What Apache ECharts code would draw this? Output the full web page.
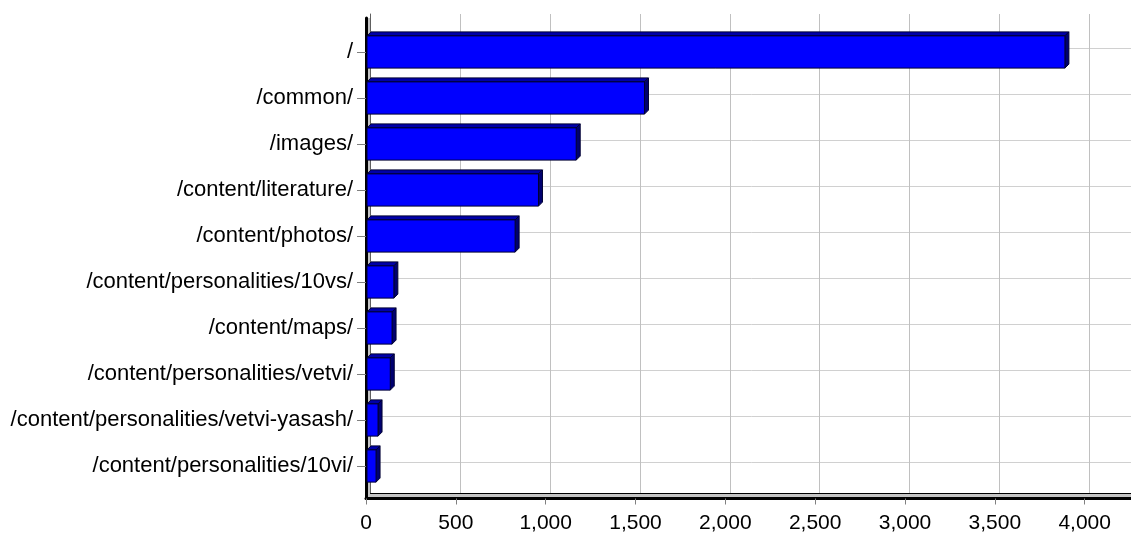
<!DOCTYPE html>
<html>
<head>
<meta charset="utf-8">
<script src="https://cdn.jsdelivr.net/npm/echarts@6/dist/echarts.min.js"></script>
<style>html,body{margin:0;padding:0;background:#fff}#c{width:1131px;height:533px}</style>
</head>
<body>
<div id="c"></div>
<script>
const categories = ["/", "/common/", "/images/", "/content/literature/", "/content/photos/",
  "/content/personalities/10vs/", "/content/maps/", "/content/personalities/vetvi/",
  "/content/personalities/vetvi-yasash/", "/content/personalities/10vi/"];
const hits = [3890, 1550, 1170, 960, 830, 155, 145, 135, 67, 56];
const xTicks = { min: 0, max: 4500, interval: 500 };

const FONT = '"Liberation Sans", Arial, sans-serif';
const D = 4;
const FRONT = '#0000FF', TOP = '#0000A8', SIDE = '#000070', EDGE = '#000033';

const seriesData = hits.map((v, i) => [v, i]);

function renderItem(params, api) {
  const v = api.value(0), c = api.value(1);
  const p0 = api.coord([0, c]);
  const p1 = api.coord([v, c]);
  const bh = api.size([0, 1])[1] * 0.7;
  const x0 = p0[0] + 1, x1 = p1[0], y0 = p0[1] - bh / 2, y1 = p0[1] + bh / 2;
  return {
    type: 'group',
    children: [
      { type: 'polygon', shape: { points: [[x0, y0], [x0 + D, y0 - D], [x1 + D, y0 - D], [x1, y0]] },
        style: { fill: TOP, stroke: EDGE, lineWidth: 1 } },
      { type: 'polygon', shape: { points: [[x1, y0], [x1 + D, y0 - D], [x1 + D, y1 - D], [x1, y1]] },
        style: { fill: SIDE, stroke: EDGE, lineWidth: 1 } },
      { type: 'rect', shape: { x: x0, y: y0, width: x1 - x0, height: y1 - y0 },
        style: { fill: FRONT, stroke: EDGE, lineWidth: 1 } }
    ]
  };
}

const chart = echarts.init(document.getElementById('c'), null, { renderer: 'canvas' });
const hidden = { show: false };
chart.setOption({
  animation: false,
  backgroundColor: '#fff',
  grid: [
    // 0: front frame (floor + left wall)
    { left: 366, right: -50, top: 18, bottom: 34.5, show: true, backgroundColor: '#c4c4c4', borderWidth: 0, z: 0,
      containLabel: false, outerBoundsMode: 'none' },
    // 1: back wall
    { left: 370.5, right: -48, top: 14, bottom: 40, show: true, backgroundColor: '#ffffff', borderWidth: 0, z: 1,
      containLabel: false, outerBoundsMode: 'none' },
    // 2: horizontal gridlines on the back wall
    { left: 370.5, right: -48, top: 48, bottom: 71, show: false, z: 2,
      containLabel: false, outerBoundsMode: 'none' },
    // 3: bars
    { left: 366, right: -43.5, top: 29, bottom: 44, show: false, z: 3,
      containLabel: false, outerBoundsMode: 'none' }
  ],
  xAxis: [
    { gridIndex: 0, type: 'value', min: 0, max: 4500, position: 'bottom', z: 1,
      axisLine: { show: true, lineStyle: { color: '#000', width: 3 } },
      axisTick: hidden, axisLabel: hidden, splitLine: hidden },
    { gridIndex: 1, type: 'value', min: xTicks.min, max: xTicks.max, interval: xTicks.interval, position: 'top', z: 2,
      axisLine: { show: true, lineStyle: { color: '#707070', width: 1 } },
      axisTick: hidden, axisLabel: hidden,
      splitLine: { show: true, lineStyle: { color: '#c0c0c0', width: 1 } } },
    { gridIndex: 1, type: 'value', min: xTicks.min, max: xTicks.max, position: 'bottom', z: 2,
      axisLine: { show: true, lineStyle: { color: '#000', width: 1 } },
      axisTick: hidden, axisLabel: hidden, splitLine: hidden },
    { gridIndex: 2, type: 'value', min: xTicks.min, max: xTicks.max, show: false },
    { gridIndex: 3, type: 'value', min: xTicks.min, max: xTicks.max, interval: xTicks.interval, position: 'bottom',
      offset: 9.5, z: 4,
      axisLine: { show: false },
      axisTick: { show: true, length: 6, lineStyle: { color: '#808080', width: 1 } },
      axisLabel: { show: true, color: '#000', fontSize: 21, fontFamily: FONT, margin: 14,
        formatter: v => v.toLocaleString('en-US') },
      splitLine: hidden }
  ],
  yAxis: [
    { gridIndex: 0, type: 'value', min: 0, max: 1, position: 'left', z: 1,
      axisLine: { show: true, lineStyle: { color: '#000', width: 3 } },
      axisTick: hidden, axisLabel: hidden, splitLine: hidden },
    { gridIndex: 1, type: 'value', min: 0, max: 1, position: 'left', z: 2,
      axisLine: { show: true, lineStyle: { color: '#606060', width: 1 } },
      axisTick: hidden, axisLabel: hidden, splitLine: hidden },
    { gridIndex: 2, type: 'category', data: categories, inverse: true, boundaryGap: false, z: 2,
      axisLine: hidden, axisTick: hidden, axisLabel: hidden,
      splitLine: { show: true, lineStyle: { color: '#d0d0d0', width: 1 } } },
    { gridIndex: 3, type: 'category', data: categories, inverse: true, z: 4,
      axisLine: { show: false },
      axisTick: { show: true, alignWithLabel: true, length: 9, lineStyle: { color: '#808080', width: 1 } },
      axisLabel: { show: true, color: '#000', fontSize: 22, fontFamily: FONT, margin: 13 },
      splitLine: hidden }
  ],
  series: [
    { type: 'custom', xAxisIndex: 4, yAxisIndex: 3, renderItem: renderItem, data: seriesData,
      encode: { x: 0, y: 1 }, z: 5, clip: false }
  ]
});
</script>
</body>
</html>
